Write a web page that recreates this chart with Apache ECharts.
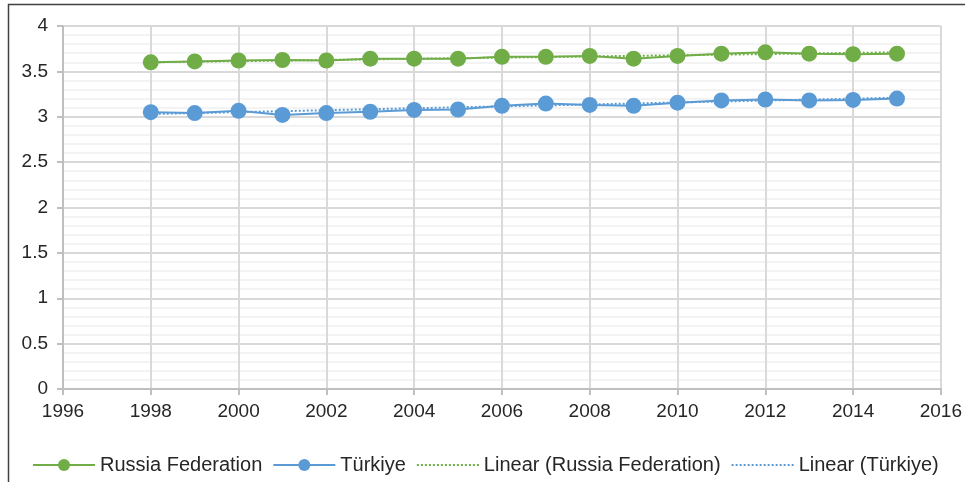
<!DOCTYPE html>
<html>
<head>
<meta charset="utf-8">
<script src="https://cdn.jsdelivr.net/npm/echarts@6/dist/echarts.min.js"></script>
<style>
  html, body { margin: 0; padding: 0; background: #fff; }
  #chart { width: 965px; height: 482px; }
</style>
</head>
<body>
<div id="chart"></div>
<script>
// years and values
const years = [1998, 1999, 2000, 2001, 2002, 2003, 2004, 2005, 2006, 2007, 2008, 2009, 2010, 2011, 2012, 2013, 2014, 2015];
const russia = [3.60, 3.61, 3.62, 3.625, 3.62, 3.64, 3.64, 3.64, 3.66, 3.66, 3.67, 3.64, 3.67, 3.695, 3.71, 3.695, 3.69, 3.695];
const turkey = [3.05, 3.04, 3.065, 3.02, 3.04, 3.055, 3.075, 3.08, 3.12, 3.145, 3.13, 3.12, 3.155, 3.18, 3.19, 3.18, 3.185, 3.20];
// trend line ends (Excel linear trendline)
const trendYears = [1998, 2015];
const trendRussia = [3.60, 3.71];
const trendTurkey = [3.03, 3.21];

const names = ['Russia Federation', 'Türkiye', 'Linear (Russia Federation)', 'Linear (Türkiye)'];
const green = '#70AD47';
const blue = '#5B9BD5';
const font = 'Liberation Sans, Arial, sans-serif';
const txt = '#262626';

const pairs = (xs, ys) => xs.map((x, i) => [x, ys[i]]);

var myChart = echarts.init(document.getElementById('chart'));
var option = {
  animation: false,
  graphic: [{
    type: 'rect',
    shape: { x: 8.5, y: 4.5, width: 1200, height: 1200 },
    style: { fill: 'none', stroke: '#404040', lineWidth: 1.5 },
    silent: true
  }],
  grid: { left: 63, right: 23, top: 26, bottom: 93 },
  legend: {
    data: [
      { name: names[0] },
      { name: names[1] },
      { name: names[2], itemStyle: { opacity: 0 } },
      { name: names[3], itemStyle: { opacity: 0 } }
    ],
    left: 27,
    top: 450,
    itemWidth: 62,
    itemHeight: 15,
    itemGap: 10,
    textStyle: { fontFamily: font, fontSize: 20, color: txt }
  },
  xAxis: {
    type: 'value',
    min: 1996,
    max: 2016,
    interval: 2,
    axisLine: { lineStyle: { color: '#bfbfbf', width: 2 } },
    axisTick: { show: true, length: 6, lineStyle: { color: '#bfbfbf', width: 2 } },
    axisLabel: { fontFamily: font, fontSize: 19, color: txt, margin: 13, formatter: v => String(v) },
    splitLine: { show: true, lineStyle: { color: '#d9d9d9', width: 2 } }
  },
  yAxis: {
    type: 'value',
    min: 0,
    max: 4,
    interval: 0.5,
    axisLine: { show: true, lineStyle: { color: '#bfbfbf', width: 2 } },
    axisTick: { show: true, length: 6, lineStyle: { color: '#bfbfbf', width: 2 } },
    axisLabel: { fontFamily: font, fontSize: 19, color: txt, margin: 15 },
    splitLine: { show: true, lineStyle: { color: '#d9d9d9', width: 2 } },
    minorTick: { show: false, splitNumber: 5 },
    minorSplitLine: { show: true, lineStyle: { color: '#f0f0f0', width: 1.5 } }
  },
  series: [
    {
      name: names[0],
      type: 'line',
      data: pairs(years, russia),
      symbol: 'circle',
      symbolSize: 16,
      itemStyle: { color: green },
      lineStyle: { color: green, width: 2 },
      z: 3
    },
    {
      name: names[1],
      type: 'line',
      data: pairs(years, turkey),
      symbol: 'circle',
      symbolSize: 16,
      itemStyle: { color: blue },
      lineStyle: { color: blue, width: 2 },
      z: 3
    },
    {
      name: names[2],
      type: 'line',
      data: pairs(trendYears, trendRussia),
      symbol: 'none',
      itemStyle: { color: green },
      lineStyle: { color: green, width: 2, type: [2, 2] },
      z: 4
    },
    {
      name: names[3],
      type: 'line',
      data: pairs(trendYears, trendTurkey),
      symbol: 'none',
      itemStyle: { color: blue },
      lineStyle: { color: blue, width: 2, type: [2, 2] },
      z: 4
    }
  ]
};
myChart.setOption(option);
</script>
</body>
</html>
